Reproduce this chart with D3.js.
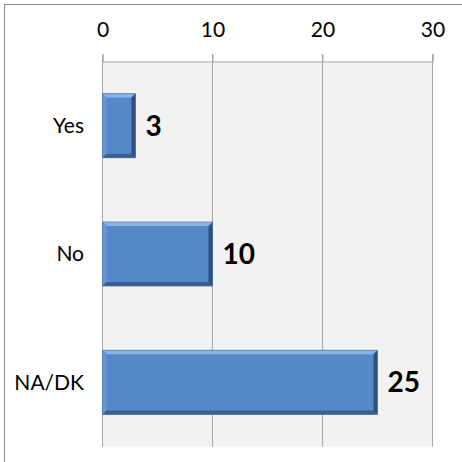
<!DOCTYPE html>
<html><head><meta charset="utf-8">
<script src="https://cdn.jsdelivr.net/npm/d3@7"></script>
<style>html,body{margin:0;padding:0;background:#fff}svg{display:block}</style>
</head><body>
<script>
const categories = ["Yes", "No", "NA/DK"];
const values = [3, 10, 25];
const tickValues = [0, 10, 20, 30];

const W = 462, H = 462;
const svg = d3.select("body").append("svg").attr("width", W).attr("height", H);
const font = "Lato, 'Open Sans', 'Noto Sans', sans-serif";

// outer frame
svg.append("rect").attr("x", 4.5).attr("y", 4.5).attr("width", 470).attr("height", 470)
  .attr("fill", "#fff").attr("stroke", "#868686").attr("stroke-width", 1);

const x = d3.scaleLinear().domain([0, 30]).range([102.5, 432.5]);
const y = d3.scaleBand().domain(categories).range([61.5, 446.5]).paddingInner(0.5).paddingOuter(0.25);

// plot background
svg.append("rect").attr("x", x(0)).attr("y", 61.5).attr("width", x(30) - x(0)).attr("height", 385)
  .attr("fill", "#f2f2f2");

// gridlines
svg.append("g").selectAll("line").data(tickValues).join("line")
  .attr("x1", d => x(d)).attr("x2", d => x(d)).attr("y1", 54).attr("y2", 446.5)
  .attr("stroke", "#a6a6a6").attr("stroke-width", 1);

// top axis
const ax = svg.append("g").attr("transform", "translate(0,61.5)")
  .call(d3.axisTop(x).tickValues(tickValues).tickSize(7).tickPadding(18).tickFormat(d3.format("d")));
ax.select(".domain").attr("stroke", "#a6a6a6");
ax.selectAll(".tick line").attr("stroke", "#a6a6a6");
ax.selectAll("text").attr("font-family", font).attr("font-size", 21).attr("fill", "#000");

// category labels
svg.append("g").selectAll("text").data(categories).join("text")
  .attr("x", 84).attr("y", d => y(d) + y.bandwidth() / 2).attr("dy", "0.35em")
  .attr("text-anchor", "end").attr("font-family", font).attr("font-size", 21).attr("fill", "#000")
  .text(d => d);

// bars with bevel
const data = categories.map((c, i) => ({ c, v: values[i] }));
const bw = 4;
const g = svg.append("g").selectAll("g").data(data).join("g");
g.append("rect")
  .attr("x", x(0)).attr("y", d => y(d.c)).attr("width", d => x(d.v) - x(0)).attr("height", y.bandwidth())
  .attr("fill", "#5588c8");
function poly(pts) { return pts.map(p => p.join(",")).join(" "); }
g.append("polygon").attr("fill", "#8ab2e6").attr("points", d => {
  const x0 = x(0), x1 = x(d.v), y0 = y(d.c);
  return poly([[x0, y0], [x1, y0], [x1 - bw, y0 + bw], [x0 + bw, y0 + bw]]);
});
g.append("polygon").attr("fill", "#6a97d2").attr("points", d => {
  const x0 = x(0), y0 = y(d.c), y1 = y0 + y.bandwidth();
  return poly([[x0, y0], [x0 + bw, y0 + bw], [x0 + bw, y1 - bw], [x0, y1]]);
});
g.append("polygon").attr("fill", "#2f517d").attr("points", d => {
  const x1 = x(d.v), y0 = y(d.c), y1 = y0 + y.bandwidth();
  return poly([[x1, y0], [x1, y1], [x1 - bw, y1 - bw], [x1 - bw, y0 + bw]]);
});
g.append("polygon").attr("fill", "#3b5f8e").attr("points", d => {
  const x0 = x(0), x1 = x(d.v), y1 = y(d.c) + y.bandwidth();
  return poly([[x0, y1], [x0 + bw, y1 - bw], [x1 - bw, y1 - bw], [x1, y1]]);
});
g.append("rect")
  .attr("x", x(0)).attr("y", d => y(d.c)).attr("width", d => x(d.v) - x(0)).attr("height", y.bandwidth())
  .attr("fill", "none").attr("stroke", "#3f6491").attr("stroke-width", 1).attr("stroke-opacity", 0.5);

// value labels
svg.append("g").selectAll("text").data(data).join("text")
  .attr("x", d => x(d.v) + 10).attr("y", d => y(d.c) + y.bandwidth() / 2).attr("dy", "0.36em")
  .attr("font-family", font).attr("font-size", 28).attr("font-weight", "bold").attr("fill", "#000")
  .text(d => d.v);
</script>
</body></html>
